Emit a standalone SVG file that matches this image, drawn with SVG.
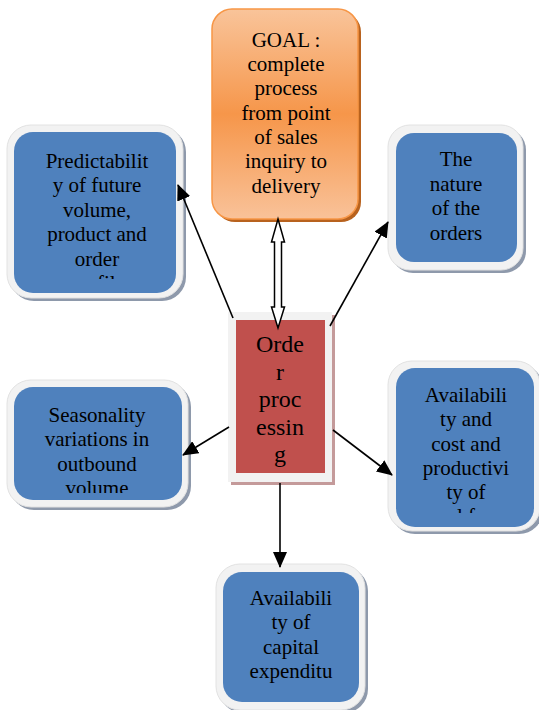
<svg xmlns="http://www.w3.org/2000/svg" width="539" height="710" viewBox="0 0 539 710">
  <defs>
    <linearGradient id="goalFill" x1="0" y1="0" x2="0" y2="1">
      <stop offset="0" stop-color="#F9C49A"/>
      <stop offset="0.5" stop-color="#F6964A"/>
      <stop offset="1" stop-color="#F9C299"/>
    </linearGradient>
    <marker id="arrow" markerUnits="userSpaceOnUse" markerWidth="16" markerHeight="14" refX="15" refY="7" orient="auto">
      <path d="M0,0 L16,7 L0,14 z" fill="#000"/>
    </marker>
    <clipPath id="clipTL"><rect x="14" y="132" width="162" height="147"/></clipPath>
    <clipPath id="clipML"><rect x="14" y="387" width="168" height="106"/></clipPath>
    <clipPath id="clipMR"><rect x="396" y="368" width="140" height="145"/></clipPath>
    <clipPath id="clipB"><rect x="223" y="572" width="140" height="116"/></clipPath>
  </defs>
  <style>
    .shadow { fill: #8E99AB; }
    .frame { fill: #F2F2F2; stroke: #E2E2E2; stroke-width: 1; }
    .blue { fill: #4F81BD; }
    text { font-family: "Liberation Serif", "DejaVu Serif", serif; font-size: 21px; fill: #000; text-anchor: middle; }
    .big { font-size: 24px; }
    .conn { stroke: #000; stroke-width: 1.6; fill: none; marker-end: url(#arrow); }
  </style>

  <!-- Goal box -->
  <g id="goal">
    <rect x="215" y="12" width="146" height="210" rx="20" fill="#B8621E"/>
    <rect x="212" y="9" width="146" height="210" rx="20" fill="url(#goalFill)" stroke="#F79646" stroke-width="1.5"/>
    <text x="286" y="47">GOAL :</text>
    <text x="286" y="71">complete</text>
    <text x="286" y="95">process</text>
    <text x="286" y="120">from point</text>
    <text x="286" y="144">of sales</text>
    <text x="286" y="168">inquiry to</text>
    <text x="286" y="193">delivery</text>
  </g>

  <!-- Predictability box -->
  <g id="predictability">
    <rect class="shadow" x="10" y="128" width="176" height="173" rx="24"/>
    <rect class="frame" x="7" y="125" width="176" height="173" rx="24"/>
    <rect class="blue" x="14" y="132" width="162" height="161" rx="19"/>
    <g clip-path="url(#clipTL)">
      <text x="97" y="168">Predictabilit</text>
      <text x="97" y="192">y of future</text>
      <text x="97" y="217">volume,</text>
      <text x="97" y="241">product and</text>
      <text x="97" y="266">order</text>
      <text x="97" y="290">profile</text>
    </g>
  </g>

  <!-- Nature of the orders box -->
  <g id="nature">
    <rect class="shadow" x="391" y="128" width="135" height="145" rx="22"/>
    <rect class="frame" x="388" y="125" width="135" height="145" rx="22"/>
    <rect class="blue" x="396" y="133" width="121" height="129" rx="18"/>
    <text x="456" y="166">The</text>
    <text x="456" y="191">nature</text>
    <text x="456" y="215">of the</text>
    <text x="456" y="240">orders</text>
  </g>

  <!-- Order processing box -->
  <g id="order-processing">
    <rect x="231" y="315" width="104" height="170" fill="#C49A9A"/>
    <rect x="228" y="312" width="104" height="170" fill="#F2F2F2"/>
    <rect x="236" y="320" width="89" height="153" fill="#C0504D"/>
    <text class="big" x="280" y="352">Orde</text>
    <text class="big" x="280" y="380">r</text>
    <text class="big" x="280" y="407">proc</text>
    <text class="big" x="280" y="435">essin</text>
    <text class="big" x="280" y="462">g</text>
  </g>

  <!-- Seasonality box -->
  <g id="seasonality">
    <rect class="shadow" x="10" y="383" width="181" height="127" rx="24"/>
    <rect class="frame" x="7" y="380" width="181" height="127" rx="24"/>
    <rect class="blue" x="14" y="387" width="168" height="113" rx="19"/>
    <g clip-path="url(#clipML)">
      <text x="97" y="422">Seasonality</text>
      <text x="97" y="446">variations in</text>
      <text x="97" y="471">outbound</text>
      <text x="97" y="495">volume</text>
    </g>
  </g>

  <!-- Availability and cost box -->
  <g id="labour">
    <rect class="shadow" x="391" y="364" width="152" height="170" rx="24"/>
    <rect class="frame" x="388" y="361" width="152" height="170" rx="24"/>
    <rect class="blue" x="396" y="368" width="138" height="159" rx="19"/>
    <g clip-path="url(#clipMR)">
      <text x="466" y="402">Availabili</text>
      <text x="466" y="426">ty and</text>
      <text x="466" y="451">cost and</text>
      <text x="466" y="475">productivi</text>
      <text x="466" y="499">ty of</text>
      <text x="466" y="523">l f</text>
    </g>
  </g>

  <!-- Capital expenditure box -->
  <g id="capital">
    <rect class="shadow" x="219" y="567" width="149" height="146" rx="24"/>
    <rect class="frame" x="216" y="564" width="149" height="146" rx="24"/>
    <rect class="blue" x="223" y="572" width="136" height="130" rx="19"/>
    <g clip-path="url(#clipB)">
      <text x="291" y="605">Availabili</text>
      <text x="291" y="629">ty of</text>
      <text x="291" y="654">capital</text>
      <text x="291" y="678">expenditu</text>
    </g>
  </g>

  <!-- Connectors -->
  <g id="connectors">
    <line class="conn" x1="233" y1="318" x2="178" y2="185"/>
    <line class="conn" x1="330" y1="326" x2="388" y2="222"/>
    <line class="conn" x1="229" y1="427" x2="183" y2="455"/>
    <line class="conn" x1="333" y1="430" x2="392" y2="475"/>
    <line class="conn" x1="280" y1="483" x2="280" y2="567"/>
    <polygon points="278,219 284.5,242 281.5,242 281.5,307 284.5,307 278,328 271.5,307 274.5,307 274.5,242 271.5,242" fill="#FFF" stroke="#000" stroke-width="1.5" stroke-linejoin="miter"/>
  </g>
</svg>
